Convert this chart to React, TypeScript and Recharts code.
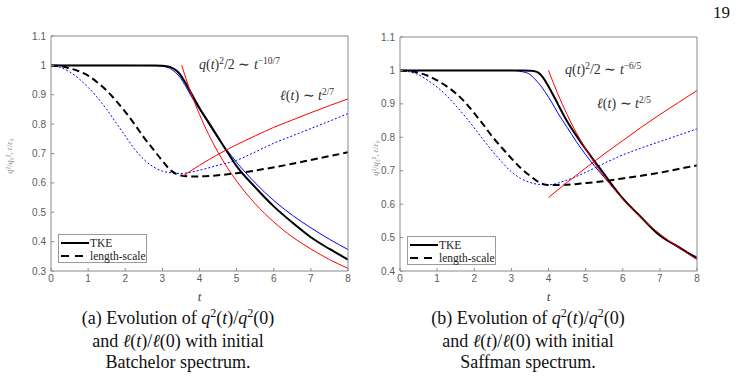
import React from 'react';
import { LineChart, Line, XAxis, YAxis, Legend } from 'recharts';

const tTicks = [0, 1, 2, 3, 4, 5, 6, 7, 8];
const yTicksA = [0.3, 0.4, 0.5, 0.6, 0.7, 0.8, 0.9, 1, 1.1];
const yTicksB = [0.4, 0.5, 0.6, 0.7, 0.8, 0.9, 1, 1.1];

// (a) Batchelor spectrum
const aTkeT = [0, 1, 2, 2.8, 3.0, 3.2, 3.4, 3.5, 3.6, 3.8, 4.0, 4.25, 4.5, 4.75, 5, 5.5, 6, 6.5, 7, 7.5, 8];
const aTkeBlack = [1, 1, 1, 1, 0.999, 0.995, 0.98, 0.965, 0.945, 0.9, 0.855, 0.805, 0.755, 0.705, 0.657, 0.585, 0.52, 0.465, 0.415, 0.375, 0.339];
const aTkeBlue = [1, 1, 1, 0.999, 0.997, 0.99, 0.97, 0.955, 0.935, 0.89, 0.85, 0.8, 0.752, 0.71, 0.67, 0.6, 0.54, 0.49, 0.447, 0.408, 0.373];
const aLenT = [0, 0.25, 0.5, 0.75, 1, 1.25, 1.5, 1.75, 2, 2.25, 2.5, 2.75, 3, 3.25, 3.5, 3.75, 4, 4.5, 5, 5.5, 6, 6.5, 7, 7.5, 8];
const aLenBlack = [1, 0.998, 0.99, 0.98, 0.965, 0.942, 0.914, 0.88, 0.842, 0.8, 0.755, 0.715, 0.675, 0.64, 0.625, 0.622, 0.622, 0.626, 0.633, 0.642, 0.653, 0.665, 0.678, 0.691, 0.704];
const aLenBlue = [1, 0.993, 0.978, 0.955, 0.925, 0.89, 0.85, 0.805, 0.76, 0.715, 0.68, 0.655, 0.64, 0.634, 0.632, 0.636, 0.643, 0.66, 0.677, 0.705, 0.735, 0.76, 0.785, 0.81, 0.836];
const aFitTkeT = [3.52, 3.75, 4, 4.25, 4.5, 5, 5.5, 6, 6.5, 7, 7.5, 8];
const aFitTke = [1.0, 0.913, 0.833, 0.764, 0.704, 0.606, 0.529, 0.467, 0.416, 0.375, 0.339, 0.309];
const aFitLenT = [3.52, 4, 4.5, 5, 5.5, 6, 6.5, 7, 7.5, 8];
const aFitLen = [0.62, 0.66, 0.697, 0.73, 0.76, 0.789, 0.814, 0.839, 0.863, 0.886];

// (b) Saffman spectrum
const bTkeT = [0, 1, 2, 3, 3.3, 3.5, 3.6, 3.7, 3.8, 3.9, 4, 4.1, 4.25, 4.5, 4.75, 5, 5.5, 6, 6.5, 7, 7.5, 8];
const bTkeBlack = [1, 1, 1, 1, 1, 0.999, 0.998, 0.995, 0.986, 0.971, 0.952, 0.932, 0.9, 0.848, 0.805, 0.765, 0.69, 0.617, 0.56, 0.506, 0.472, 0.437];
const bTkeBlue = [1, 1, 1, 1, 0.996, 0.988, 0.978, 0.966, 0.953, 0.937, 0.92, 0.902, 0.873, 0.83, 0.787, 0.748, 0.68, 0.618, 0.56, 0.508, 0.47, 0.442];
const bLenT = [0, 0.25, 0.5, 0.75, 1, 1.25, 1.5, 1.75, 2, 2.25, 2.5, 2.75, 3, 3.25, 3.5, 3.75, 4, 4.5, 5, 5.5, 6, 6.5, 7, 7.5, 8];
const bLenBlack = [1, 0.998, 0.993, 0.984, 0.97, 0.953, 0.932, 0.905, 0.872, 0.837, 0.8, 0.768, 0.737, 0.708, 0.685, 0.665, 0.657, 0.658, 0.663, 0.669, 0.677, 0.685, 0.694, 0.705, 0.716];
const bLenBlue = [1, 0.996, 0.987, 0.97, 0.95, 0.925, 0.895, 0.863, 0.828, 0.792, 0.757, 0.725, 0.697, 0.677, 0.665, 0.659, 0.658, 0.672, 0.695, 0.722, 0.747, 0.768, 0.787, 0.806, 0.825];
const bFitTkeT = [4, 4.25, 4.5, 5, 5.5, 6, 6.5, 7, 7.5, 8];
const bFitTke = [1.0, 0.93, 0.868, 0.765, 0.682, 0.615, 0.558, 0.511, 0.47, 0.435];
const bFitLenT = [4, 4.5, 5, 5.5, 6, 6.5, 7, 7.5, 8];
const bFitLen = [0.62, 0.665, 0.708, 0.75, 0.79, 0.83, 0.868, 0.904, 0.94];

const pts = (t: number[], v: number[]) => t.map((x, i) => ({ t: x, v: v[i] }));

const serif = '"Liberation Serif", "Times New Roman", serif';
const sans = '"Liberation Sans", Arial, sans-serif';
const axisGray = '#8a8a8a';
const tickText = { fontSize: 10, fill: '#5a5a5a', fontFamily: sans };

type Series = { name: string; data: { t: number; v: number }[]; stroke: string; width: number; dash?: string; legend?: boolean };

function seriesFor(tk: number[], tkB: number[], tkBl: number[], lt: number[], lB: number[], lBl: number[], ft: number[], f: number[], flt: number[], fl: number[]): Series[] {
  return [
    { name: 'len-blue', data: pts(lt, lBl), stroke: '#0000ff', width: 1, dash: '2 2' },
    { name: 'tke-blue', data: pts(tk, tkBl), stroke: '#0000ff', width: 1 },
    { name: 'length-scale', data: pts(lt, lB), stroke: '#000', width: 2, dash: '7 4', legend: true },
    { name: 'TKE', data: pts(tk, tkB), stroke: '#000', width: 2, legend: true },
    { name: 'fit-tke', data: pts(ft, f), stroke: '#ff0000', width: 1 },
    { name: 'fit-len', data: pts(flt, fl), stroke: '#ff0000', width: 1 },
  ];
}

const LegendBox = ({ payload }: any) => {
  const items = (payload || []).filter((p: any) => p.value === 'TKE' || p.value === 'length-scale');
  return (
    <div style={{ border: '1px solid #9a9a9a', background: '#fff', width: 89, height: 29, boxSizing: 'border-box', paddingTop: 1 }}>
      {items.map((p: any) => (
        <div key={p.value} style={{ display: 'flex', alignItems: 'center', height: 13.5, fontFamily: serif, fontSize: 11.5, color: '#222' }}>
          <svg width={31} height={10} style={{ flex: 'none' }}>
            <line x1={2} y1={5} x2={30} y2={5} stroke="#000" strokeWidth={2} strokeDasharray={p.value === 'TKE' ? undefined : '8 6'} />
          </svg>
          <span>{p.value}</span>
        </div>
      ))}
    </div>
  );
};

type PanelProps = {
  left: number;
  width: number;
  margin: { top: number; right: number; bottom: number; left: number };
  yMin: number;
  yTicks: number[];
  series: Series[];
  legendPos: { left: number; top: number };
};

function Panel({ left, width, margin, yMin, yTicks, series, legendPos }: PanelProps) {
  return (
    <div style={{ position: 'absolute', left, top: 0 }}>
      <LineChart width={width} height={310} margin={margin}>
        <XAxis
          xAxisId="b"
          type="number"
          dataKey="t"
          domain={[0, 8]}
          ticks={tTicks}
          allowDataOverflow
          height={30}
          stroke={axisGray}
          tickSize={-3}
          tickMargin={7}
          tick={tickText}
          label={{ value: 't', position: 'insideBottom', offset: 0, style: { fontFamily: serif, fontStyle: 'italic', fontSize: 13, fill: '#444' } }}
        />
        <XAxis xAxisId="top" orientation="top" type="number" dataKey="t" domain={[0, 8]} ticks={tTicks} allowDataOverflow height={1} stroke={axisGray} tickSize={-3} tick={false} />
        <YAxis
          yAxisId="l"
          type="number"
          domain={[yMin, 1.1]}
          ticks={yTicks}
          allowDataOverflow
          width={30}
          stroke={axisGray}
          tickSize={-3}
          tickMargin={8}
          tick={tickText}
        />
        <YAxis yAxisId="r" orientation="right" type="number" domain={[yMin, 1.1]} ticks={yTicks} allowDataOverflow width={1} stroke={axisGray} tickSize={-3} tick={false} />
        {series.map((s) => (
          <Line
            key={s.name}
            xAxisId="b"
            yAxisId="l"
            data={s.data}
            dataKey="v"
            name={s.name}
            type="monotone"
            stroke={s.stroke}
            strokeWidth={s.width}
            strokeDasharray={s.dash}
            dot={false}
            activeDot={false}
            legendType={s.legend ? 'line' : 'none'}
            isAnimationActive={false}
          />
        ))}
        <Legend
          layout="horizontal"
          align="center"
          verticalAlign="middle"
          content={<LegendBox />}
          wrapperStyle={{ left: legendPos.left, top: legendPos.top, width: 89, height: 29 }}
        />
      </LineChart>
    </div>
  );
}

const sup = { fontSize: 9.5, position: 'relative' as const, top: -5, fontStyle: 'normal' as const };
const it = { fontStyle: 'italic' as const };

function Note({ x, y, children }: { x: number; y: number; children: React.ReactNode }) {
  return (
    <div style={{ position: 'absolute', left: x, top: y, fontFamily: serif, fontSize: 14, lineHeight: '14px', color: '#333', whiteSpace: 'nowrap' }}>
      {children}
    </div>
  );
}

function YLab({ x, y }: { x: number; y: number }) {
  return (
    <div style={{ position: 'absolute', left: x - 30, top: y - 6, width: 60, textAlign: 'center', transform: 'rotate(-90deg)', fontFamily: serif, fontSize: 8.5, lineHeight: '12px', color: '#888', whiteSpace: 'nowrap' }}>
      <span style={it}>q</span>²/<span style={it}>q</span>₀², <span style={it}>ε</span>/<span style={it}>ε</span>₀
    </div>
  );
}

function Caption({ cx, lines }: { cx: number; lines: React.ReactNode[] }) {
  return (
    <div style={{ position: 'absolute', left: cx - 150, top: 308, width: 300, textAlign: 'center', fontFamily: serif, fontSize: 18, lineHeight: '21px', color: '#111' }}>
      {lines.map((l, i) => (
        <div key={i}>{l}</div>
      ))}
    </div>
  );
}

const capSup = { fontSize: 12, position: 'relative' as const, top: -7 };

export default function App() {
  const seriesA = seriesFor(aTkeT, aTkeBlack, aTkeBlue, aLenT, aLenBlack, aLenBlue, aFitTkeT, aFitTke, aFitLenT, aFitLen);
  const seriesB = seriesFor(bTkeT, bTkeBlack, bTkeBlue, bLenT, bLenBlack, bLenBlue, bFitTkeT, bFitTke, bFitLenT, bFitLen);
  return (
    <div style={{ position: 'absolute', left: 0, top: 0, width: 741, height: 376, background: '#fff', overflow: 'hidden' }}>
      <div style={{ position: 'absolute', left: 713, top: 3, fontFamily: serif, fontSize: 17, color: '#111' }}>19</div>
      <Panel left={0} width={370} margin={{ top: 35, right: 21, bottom: 9, left: 21 }} yMin={0.3} yTicks={yTicksA} series={seriesA} legendPos={{ left: 58, top: 234 }} />
      <Panel left={370} width={371} margin={{ top: 36, right: 43, bottom: 9, left: 0 }} yMin={0.4} yTicks={yTicksB} series={seriesB} legendPos={{ left: 37, top: 236 }} />
      <YLab x={9} y={156} />
      <YLab x={375} y={158} />
      <Note x={199} y={58}>
        <span style={it}>q</span>(<span style={it}>t</span>)<span style={sup}>2</span>/2 ∼ <span style={it}>t</span><span style={sup}>−10/7</span>
      </Note>
      <Note x={280} y={89}>
        <span style={it}>ℓ</span>(<span style={it}>t</span>) ∼ <span style={it}>t</span><span style={sup}>2/7</span>
      </Note>
      <Note x={565} y={63}>
        <span style={it}>q</span>(<span style={it}>t</span>)<span style={sup}>2</span>/2 ∼ <span style={it}>t</span><span style={sup}>−6/5</span>
      </Note>
      <Note x={597} y={97}>
        <span style={it}>ℓ</span>(<span style={it}>t</span>) ∼ <span style={it}>t</span><span style={sup}>2/5</span>
      </Note>
      <Caption
        cx={178}
        lines={[
          <span>(a) Evolution of <span style={it}>q</span><span style={capSup}>2</span>(<span style={it}>t</span>)/<span style={it}>q</span><span style={capSup}>2</span>(0)</span>,
          <span>and <span style={it}>ℓ</span>(<span style={it}>t</span>)/<span style={it}>ℓ</span>(0) with initial</span>,
          <span>Batchelor spectrum.</span>,
        ]}
      />
      <Caption
        cx={528}
        lines={[
          <span>(b) Evolution of <span style={it}>q</span><span style={capSup}>2</span>(<span style={it}>t</span>)/<span style={it}>q</span><span style={capSup}>2</span>(0)</span>,
          <span>and <span style={it}>ℓ</span>(<span style={it}>t</span>)/<span style={it}>ℓ</span>(0) with initial</span>,
          <span>Saffman spectrum.</span>,
        ]}
      />
    </div>
  );
}
